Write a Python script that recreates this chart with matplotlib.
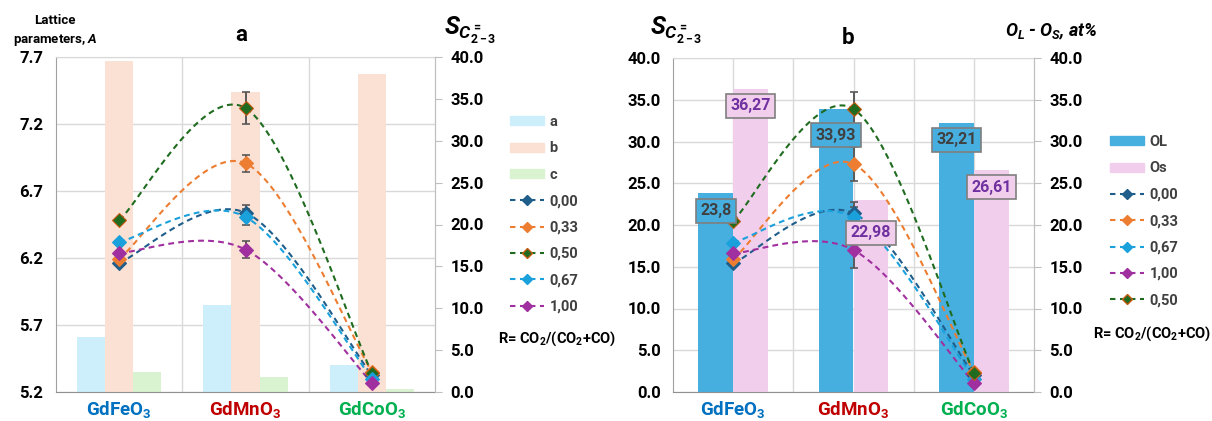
import numpy as np
import matplotlib
matplotlib.use("Agg")
import matplotlib.pyplot as plt
from matplotlib.patches import Patch
from matplotlib.lines import Line2D

plt.rcParams["font.family"] = ["Roboto", "DejaVu Sans"]
plt.rcParams["font.weight"] = "bold"
plt.rcParams["mathtext.fontset"] = "custom"
plt.rcParams["mathtext.rm"] = "Roboto:bold"
plt.rcParams["mathtext.bf"] = "Roboto:bold"
plt.rcParams["mathtext.it"] = "Roboto:italic:bold"

# compounds
categories = ["GdFeO$_3$", "GdMnO$_3$", "GdCoO$_3$"]
cat_colors = ["#0070c0", "#c00000", "#00b050"]

# lattice parameters, A
lat_a = [5.61, 5.85, 5.40]
lat_b = [7.67, 7.44, 7.57]
lat_c = [5.35, 5.31, 5.22]

# selectivity to C2-3 olefins for each R = CO2/(CO2+CO)
r_labels = ["0,00", "0,33", "0,50", "0,67", "1,00"]
s_000 = [15.4, 21.4, 2.0]
s_033 = [15.9, 27.3, 2.4]
s_050 = [20.5, 33.9, 2.3]
s_067 = [17.9, 20.9, 1.6]
s_100 = [16.6, 17.0, 1.1]
# error bars (only measured for GdMnO3)
err_a_000 = [0, 0.9, 0]
err_a_033 = [0, 1.0, 0]
err_a_050 = [0, 1.9, 0]
err_a_067 = [0, 0.9, 0]
err_a_100 = [0, 1.0, 0]
err_b_000 = [0, 1.3, 0]
err_b_033 = [0, 2.0, 0]
err_b_050 = [0, 2.0, 0]
err_b_067 = [0, 1.3, 0]
err_b_100 = [0, 2.1, 0]

# surface oxygen, at%
o_lattice = [23.8, 33.93, 32.21]
o_surface = [36.27, 22.98, 26.61]

col_a, col_b, col_c = "#cdeefb", "#fbe1d4", "#d9f2d0"
col_ol, col_os = "#47aee0", "#f1cfec"
r_colors = {"0,00": "#1f5d8a", "0,33": "#ed7d31", "0,50": "#1f6b1f",
            "0,67": "#1aa1dc", "1,00": "#a0309f"}
r_edges = {"0,00": "#1f5d8a", "0,33": "#ed7d31", "0,50": "#c55a11",
           "0,67": "#1aa1dc", "1,00": "#a0309f"}
dash = (0, (2.8, 2.0))
grid_col = "#d9d9d9"
text_col = "#404040"


def smooth(y, n=60):
    # bezier smoothing through the points (catmull-rom style control points)
    pts = np.column_stack([np.arange(len(y)), y]).astype(float)
    segs = []
    for i in range(len(pts) - 1):
        p0 = pts[max(i - 1, 0)]
        p1 = pts[i]
        p2 = pts[i + 1]
        p3 = pts[min(i + 2, len(pts) - 1)]
        c1 = p1 + (p2 - p0) / 6.0
        c2 = p2 - (p3 - p1) / 6.0
        t = np.linspace(0, 1, n)[:, None]
        seg = (1 - t) ** 3 * p1 + 3 * (1 - t) ** 2 * t * c1 \
            + 3 * (1 - t) * t ** 2 * c2 + t ** 3 * p2
        segs.append(seg if i == 0 else seg[1:])
    s = np.vstack(segs)
    return s[:, 0], s[:, 1]


def draw_series(ax, series, errs):
    x = np.arange(3)
    for lab, vals in series:
        sx, sy = smooth(vals)
        ax.plot(sx, sy, ls=dash, lw=1.5, color=r_colors[lab], zorder=3)
    for lab, vals in series:
        ax.errorbar(x, vals, yerr=errs[lab], fmt="none", ecolor="#595959",
                    elinewidth=1.4, capsize=3, capthick=1.2, zorder=4)
        ax.plot(x, vals, "D", ms=7.5, color=r_colors[lab],
                mec=r_edges[lab], mew=0.8, zorder=5)


def style_axes(ax, ax2):
    ax.spines["left"].set_color("#a0a0a0")
    ax.spines["bottom"].set_color("#909090")
    ax.spines["top"].set_color(grid_col)
    ax.spines["right"].set_color("#bfbfbf")
    for s in ["left", "bottom", "top"]:
        ax2.spines[s].set_visible(False)
    ax2.spines["right"].set_color("#bfbfbf")
    ax.set_xlim(-0.5, 2.5)
    ax.set_xticks(range(3))
    ax.set_xticklabels(categories, fontsize=13.5)
    for tl, c in zip(ax.get_xticklabels(), cat_colors):
        tl.set_color(c)
    ax.tick_params(axis="x", length=0, pad=5)
    ax.tick_params(axis="y", length=0, pad=9, labelsize=12)
    ax2.set_ylim(0, 40)
    ax2.set_yticks(np.arange(0, 41, 5))
    ax2.set_yticklabels(["%.1f" % v for v in np.arange(0, 41, 5)])
    ax2.tick_params(axis="y", length=5, color="#bfbfbf", pad=6, labelsize=12)
    ax.set_axisbelow(True)


def legend_handles(order, bars):
    handles = [Patch(color=c) for c, _ in bars]
    labels = [l for _, l in bars]
    for lab in order:
        handles.append(Line2D([], [], color=r_colors[lab], ls=(0, (2.6, 2.2)),
                              lw=1.5, marker="D", ms=5.5, mec=r_edges[lab]))
        labels.append(lab)
    return handles, labels


fig = plt.figure(figsize=(12.12, 4.21), dpi=100)
W, H = 1212.0, 421.0
x = np.arange(3)

# ---- a: lattice parameters + selectivity
axA = fig.add_axes([56 / W, 1 - 392 / H, 379 / W, 335 / H])
axA2 = axA.twinx()
w = 0.222
axA.bar(x - w, lat_a, w, color=col_a, zorder=2)
axA.bar(x, lat_b, w, color=col_b, zorder=2)
axA.bar(x + w, lat_c, w, color=col_c, zorder=2)
axA.set_ylim(5.2, 7.7)
axA.set_yticks([5.2, 5.7, 6.2, 6.7, 7.2, 7.7])
axA.set_yticklabels(["5.2", "5.7", "6.2", "6.7", "7.2", "7.7"])
axA.yaxis.grid(True, color=grid_col, lw=1)
for xv in [0.5, 1.5]:
    axA.axvline(xv, color=grid_col, lw=1, zorder=0)
style_axes(axA, axA2)

series = [("0,00", s_000), ("0,33", s_033), ("0,50", s_050),
          ("0,67", s_067), ("1,00", s_100)]
draw_series(axA2, series, {"0,00": err_a_000, "0,33": err_a_033,
                           "0,50": err_a_050, "0,67": err_a_067,
                           "1,00": err_a_100})

h, l = legend_handles(["0,00", "0,33", "0,50", "0,67", "1,00"],
                      [(col_a, "a"), (col_b, "b"), (col_c, "c")])
fig.legend(h, l, loc="upper left", bbox_to_anchor=(510 / W, 1 - 115 / H),
           frameon=False, fontsize=10.5, labelspacing=0.85, handlelength=2.3,
           handleheight=0.6, handletextpad=0.4, labelcolor=text_col,
           borderaxespad=0, borderpad=0)
fig.text(557 / W, 1 - 339 / H, "R= CO$_2$/(CO$_2$+CO)", ha="center",
         va="center", fontsize=10.5)

fig.text(241 / W, 1 - 35 / H, "a", ha="center", va="center", fontsize=16)
fig.text(55 / W, 1 - 31 / H, "Lattice\nparameters, $A$", ha="center",
         va="center", fontsize=9.5, linespacing=1.5)
fig.text(444 / W, 1 - 30 / H, r"$S_{C^{=}_{2-3}}$", ha="left", va="center",
         fontsize=18)

# ---- b: surface oxygen + selectivity
axB = fig.add_axes([673 / W, 1 - 392 / H, 361 / W, 334 / H])
axB2 = axB.twinx()
wb = 0.29
axB.bar(x - wb / 2, o_lattice, wb, color=col_ol, zorder=2)
axB.bar(x + wb / 2, o_surface, wb, color=col_os, zorder=2)
axB.set_ylim(0, 40)
axB.set_yticks(np.arange(0, 41, 5))
axB.set_yticklabels(["%.1f" % v for v in np.arange(0, 41, 5)])
axB.yaxis.grid(True, color=grid_col, lw=1)
for xv in [0, 0.5, 1, 1.5, 2]:
    axB.axvline(xv, color=grid_col, lw=1, zorder=0)
style_axes(axB, axB2)

draw_series(axB2, [("0,00", s_000), ("0,33", s_033), ("0,67", s_067),
                   ("1,00", s_100), ("0,50", s_050)],
            {"0,00": err_b_000, "0,33": err_b_033, "0,50": err_b_050,
             "0,67": err_b_067, "1,00": err_b_100})

# value labels sit a little below each bar top
ol_drop = [2.1, 3.2, 2.0]
os_drop = [2.0, 3.9, 2.1]
for i in range(3):
    v = o_lattice[i]
    axB2.text(x[i] - wb / 2, v - ol_drop[i], f"{v:g}".replace(".", ","),
              ha="center", va="center", fontsize=11.5, color=text_col,
              zorder=10, bbox=dict(boxstyle="square,pad=0.28", fc=col_ol,
                                   ec="#7f7f7f", lw=1.2))
    v = o_surface[i]
    axB2.text(x[i] + wb / 2, v - os_drop[i], f"{v:g}".replace(".", ","),
              ha="center", va="center", fontsize=11.5, color="#7030a0",
              zorder=10, bbox=dict(boxstyle="square,pad=0.28", fc=col_os,
                                   ec="#7f7f7f", lw=1.2))

h, l = legend_handles(["0,00", "0,33", "0,67", "1,00", "0,50"],
                      [(col_ol, "OL"), (col_os, "Os")])
fig.legend(h, l, loc="upper left", bbox_to_anchor=(1110 / W, 1 - 135 / H),
           frameon=False, fontsize=10.5, labelspacing=0.85, handlelength=2.3,
           handleheight=0.6, handletextpad=0.4, labelcolor=text_col,
           borderaxespad=0, borderpad=0)
fig.text(1093 / W, 1 - 334 / H, "R= CO$_2$/(CO$_2$+CO)", ha="left",
         va="center", fontsize=10.5)

fig.text(848 / W, 1 - 38 / H, "b", ha="center", va="center", fontsize=16)
fig.text(650 / W, 1 - 30 / H, r"$S_{C^{=}_{2-3}}$", ha="left", va="center",
         fontsize=18)
fig.text(1005 / W, 1 - 32 / H, "$O_L$ - $O_S$, at%", ha="left", va="center",
         fontsize=13, style="italic")

fig.savefig("out.png", dpi=100)
